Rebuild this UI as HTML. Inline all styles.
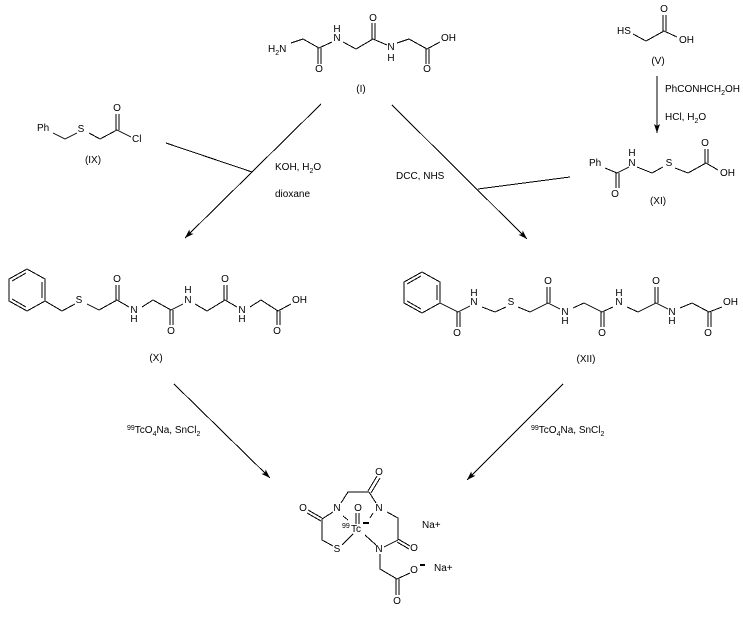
<!DOCTYPE html>
<html><head><meta charset="utf-8"><style>
html,body{margin:0;padding:0;background:#fff;width:743px;height:617px;overflow:hidden}
svg{display:block}
text{font-family:"Liberation Sans",Arial,sans-serif;font-size:10px;fill:#000}
.c{text-anchor:middle}
.b{fill:none;stroke:#000;stroke-width:1;shape-rendering:crispEdges}
.s{font-size:7px}
</style></head><body>
<svg width="743" height="617" viewBox="0 0 743 617" xmlns="http://www.w3.org/2000/svg">
<defs><marker id="a" markerUnits="userSpaceOnUse" markerWidth="12" markerHeight="10" refX="10" refY="5" orient="auto"><path d="M10,5 L1,2 L3,5 L1,8 Z" fill="#000"/></marker></defs>

<!-- I -->
<path class="b" d="M291,43L303,39L319,48L332,42M343,42L356,49L373,39L387,45M397,43L409,39L427,49L440,42M318,48V64M321,48V64M372,39V23M375,39V23M426,49V64M429,49V64"/>
<text x="268" y="52">H<tspan class="s" dy="3">2</tspan><tspan dy="-3">N</tspan></text>
<text class="c" x="337" y="41">N</text><text class="c" x="337" y="32">H</text>
<text class="c" x="319" y="72">O</text><text class="c" x="373" y="21">O</text>
<text class="c" x="391" y="50">N</text><text class="c" x="391" y="61">H</text>
<text class="c" x="427" y="72">O</text><text x="441" y="41">OH</text>
<text class="c" x="361" y="92">(I)</text>

<!-- V -->
<path class="b" d="M633,34L646,41L664,31L677,37M663,31V15M666,31V15"/>
<text x="617" y="34">HS</text><text class="c" x="664" y="12">O</text><text x="679" y="43">OH</text>
<text class="c" x="658" y="64">(V)</text>
<path class="b" d="M657,76V133" marker-end="url(#a)"/>
<text x="665" y="92">PhCONHCH<tspan class="s" dy="3">2</tspan><tspan dy="-3">OH</tspan></text>
<text x="665" y="120">HCl, H<tspan class="s" dy="3">2</tspan><tspan dy="-3">O</tspan></text>

<!-- XI -->
<path class="b" d="M605,168L617,173L629,167M637,167L652,173L663,167M675,168L688,173L706,163L718,170M705,163V149M708,163V149M616,173V188M619,173V188"/>
<text x="589" y="166">Ph</text>
<text class="c" x="632" y="166">N</text><text class="c" x="632" y="156">H</text>
<text class="c" x="669" y="166">S</text><text class="c" x="705" y="146">O</text>
<text x="720" y="176">OH</text><text class="c" x="615" y="197">O</text>
<text class="c" x="658" y="204">(XI)</text>

<!-- IX -->
<path class="b" d="M53,133L65,139L77,133M89,133L100,139L117,130L131,137M116,130V114M119,130V114"/>
<text x="37" y="131">Ph</text><text class="c" x="81" y="132">S</text><text x="132" y="142">Cl</text>
<text class="c" x="117" y="111">O</text><text class="c" x="93" y="163">(IX)</text>

<!-- reaction arrows upper -->
<path class="b" d="M321,104L185,238" marker-end="url(#a)"/>
<path class="b" d="M166,143L252,172"/>
<text x="275" y="170">KOH, H<tspan class="s" dy="3">2</tspan><tspan dy="-3">O</tspan></text>
<text x="275" y="197">dioxane</text>
<path class="b" d="M392,105L527,239" marker-end="url(#a)"/>
<path class="b" d="M478,189L570,177"/>
<text x="396" y="179">DCC, NHS</text>

<!-- X -->
<path class="b" d="M27,269L45,279V301L27,311L9,301V279ZM26,273L12,281M42,282V298M12,299L26,307M45,301L62,311L75,304M87,304L99,310L117,300L129,307M116,300V285M119,300V285M142,307L153,300L171,310L183,304M170,310V325M173,310V325M195,304L207,311L225,300L237,307M224,300V285M227,300V285M250,307L261,300L278,311L291,304M277,311V325M280,311V325"/>
<text class="c" x="79" y="303">S</text><text class="c" x="117" y="282">O</text>
<text class="c" x="134" y="313">N</text><text class="c" x="134" y="322">H</text>
<text class="c" x="171" y="334">O</text>
<text class="c" x="188" y="303">N</text><text class="c" x="188" y="293">H</text>
<text class="c" x="225" y="282">O</text>
<text class="c" x="242" y="313">N</text><text class="c" x="242" y="322">H</text>
<text x="292" y="303">OH</text><text class="c" x="277" y="334">O</text>
<text class="c" x="156" y="361">(X)</text>

<!-- XII -->
<path class="b" d="M422,272L440,282V303L422,313L404,303V282ZM421,276L407,284M437,285V300M407,301L421,309M440,303L458,312L470,306M457,312V327M460,312V327M482,307L495,312L506,307M518,307L530,312L548,303L560,309M547,303V287M550,303V287M573,308L584,303L602,312L613,307M601,312V327M604,312V327M627,307L638,312L656,303L668,309M655,303V287M658,303V287M680,308L692,303L709,312L722,307M708,312V327M711,312V327"/>
<text class="c" x="457" y="336">O</text>
<text class="c" x="474" y="305">N</text><text class="c" x="474" y="296">H</text>
<text class="c" x="511" y="305">S</text><text class="c" x="548" y="284">O</text>
<text class="c" x="565" y="315">N</text><text class="c" x="565" y="324">H</text>
<text class="c" x="602" y="336">O</text>
<text class="c" x="619" y="305">N</text><text class="c" x="619" y="296">H</text>
<text class="c" x="656" y="284">O</text>
<text class="c" x="672" y="315">N</text><text class="c" x="672" y="324">H</text>
<text x="723" y="305">OH</text><text class="c" x="708" y="336">O</text>
<text class="c" x="586" y="362">(XII)</text>

<!-- lower arrows -->
<path class="b" d="M174,384L270,478" marker-end="url(#a)"/>
<path class="b" d="M563,384L467,480" marker-end="url(#a)"/>
<text x="127" y="433"><tspan class="s" dy="-3">99</tspan><tspan dy="3">TcO</tspan><tspan class="s" dy="3">4</tspan><tspan dy="-3">Na, SnCl</tspan><tspan class="s" dy="3">2</tspan></text>
<text x="531" y="433"><tspan class="s" dy="-3">99</tspan><tspan dy="3">TcO</tspan><tspan class="s" dy="3">4</tspan><tspan dy="-3">Na, SnCl</tspan><tspan class="s" dy="3">2</tspan></text>

<!-- product -->
<path class="b" d="M308,510L322,518M307,513L321,521M322,519L333,512M322,519V540L333,546M341,503L348,492H369M368,491L377,476M371,493L380,478M369,492L376,503M387,512L398,518V540M398,539L410,546M397,542L409,549M398,540L384,547M380,554V569L397,579L410,573M396,579V595M399,579V595M356,513V524M359,513V524M343,516L348,520M373,513L370,518M342,545L353,534M365,535L376,545"/>
<path d="M363,523H369M420,565H425" stroke="#000" stroke-width="2" shape-rendering="crispEdges"/>
<text class="c" x="303" y="511">O</text><text class="c" x="337" y="511">N</text>
<text class="c" x="337" y="552">S</text><text class="c" x="379" y="475">O</text>
<text class="c" x="379" y="511">N</text><text class="c" x="414" y="551">O</text>
<text class="c" x="379" y="552">N</text><text class="c" x="414" y="573">O</text>
<text class="c" x="397" y="604">O</text><text class="c" x="358" y="511">O</text>
<text x="342" y="528" class="s">99</text><text x="351" y="532">Tc</text>
<text x="422" y="528">Na+</text><text x="434" y="571">Na+</text>
</svg>
</body></html>
